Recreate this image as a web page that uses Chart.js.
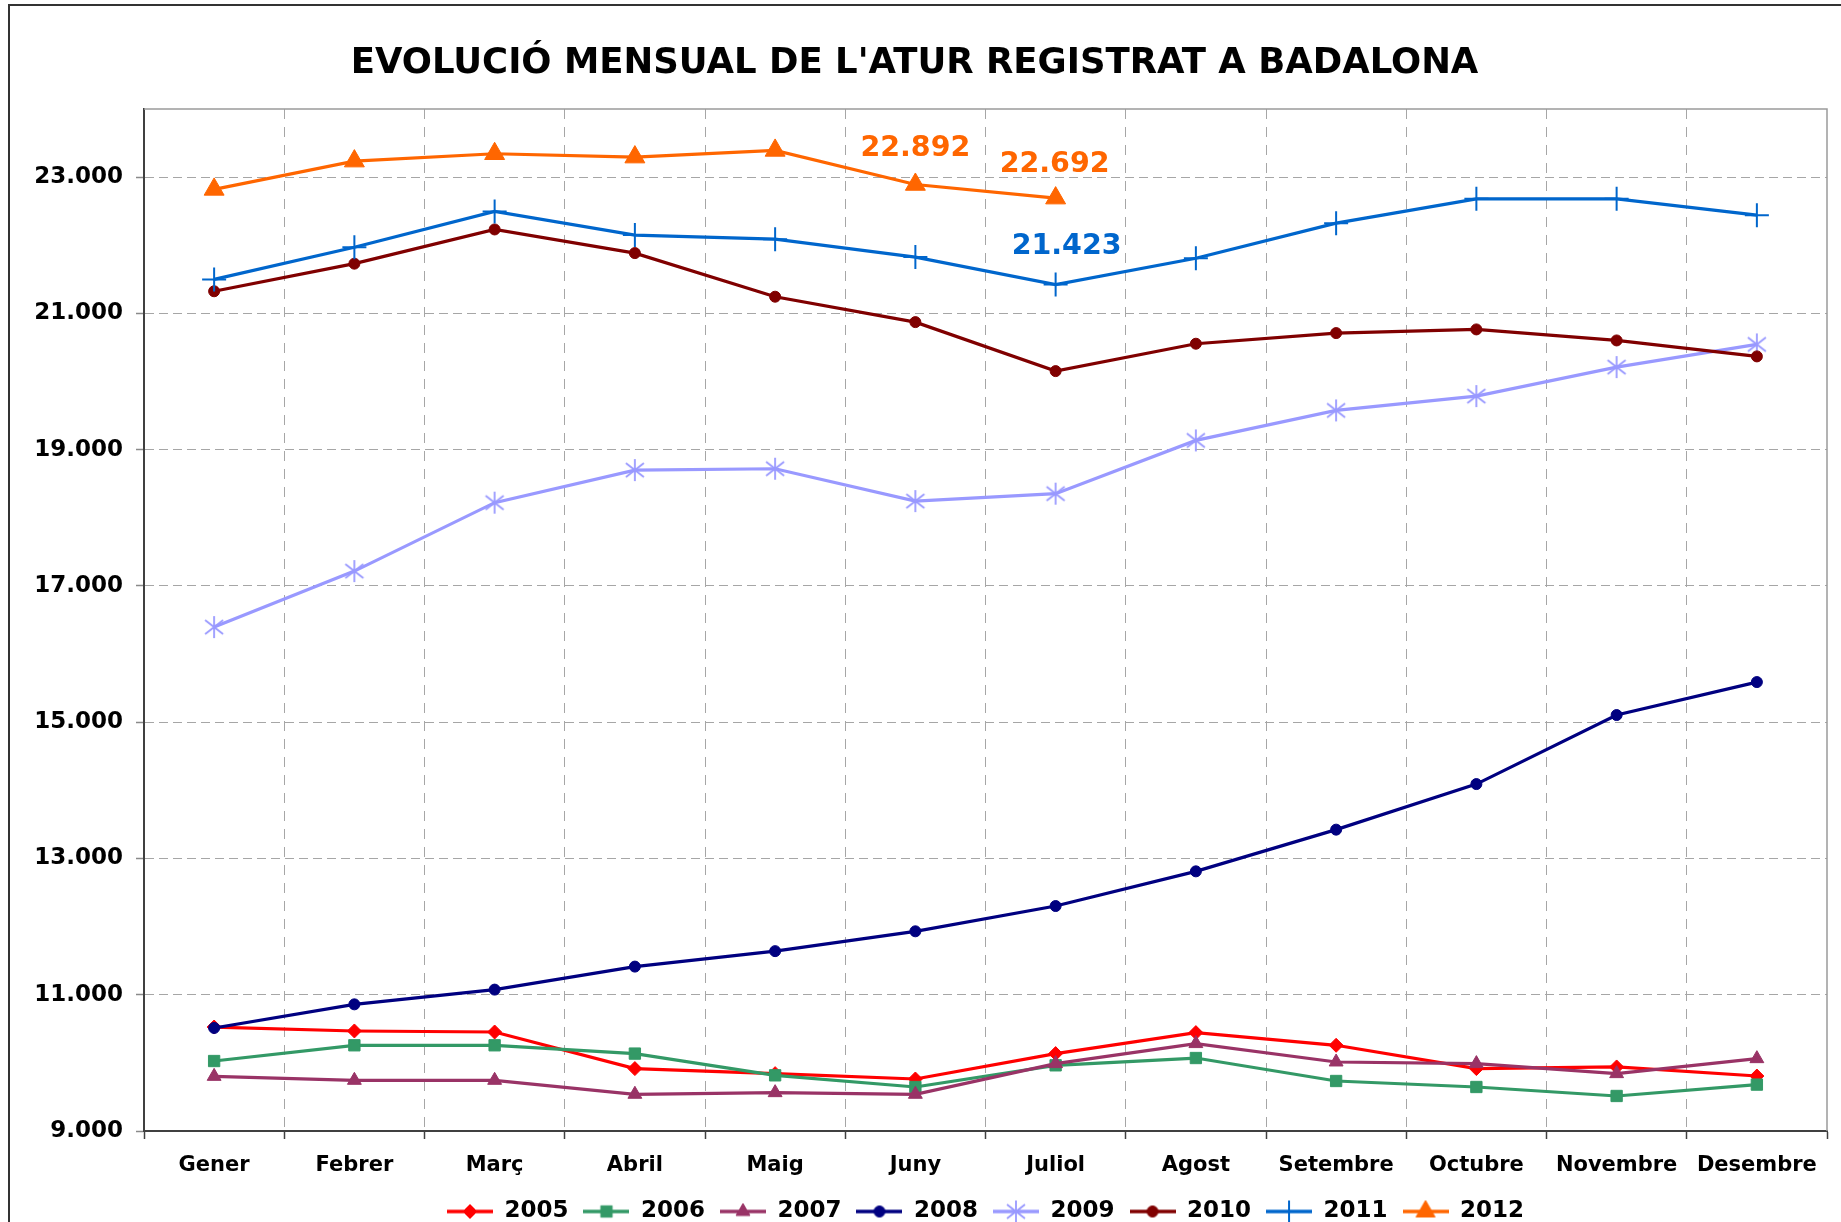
<!DOCTYPE html>
<html>
<head>
<meta charset="utf-8">
<script src="https://cdn.jsdelivr.net/npm/chart.js@4.4.1/dist/chart.umd.min.js"></script>
<style>
html,body{margin:0;padding:0;background:#fff;}
canvas{display:block;}
</style>
</head>
<body>
<canvas id="c" width="1841" height="1222"></canvas>
<script>
// ---------- DATA ----------
const chartTitle = "EVOLUCIÓ MENSUAL DE L'ATUR REGISTRAT A BADALONA";
const months = ['Gener','Febrer','Març','Abril','Maig','Juny','Juliol','Agost','Setembre','Octubre','Novembre','Desembre'];
const years = ['2005','2006','2007','2008','2009','2010','2011','2012'];
const y2005 = [10526, 10468, 10453, 9916, 9842, 9763, 10136, 10444, 10258, 9916, 9940, 9807];
const y2006 = [10027, 10258, 10258, 10136, 9817, 9646, 9964, 10071, 9734, 9646, 9514, 9681];
const y2007 = [9802, 9744, 9744, 9539, 9563, 9539, 9989, 10283, 10013, 9989, 9842, 10062];
const y2008 = [10512, 10859, 11075, 11413, 11640, 11931, 12302, 12811, 13423, 14092, 15105, 15589];
const y2009 = [16396, 17218, 18222, 18700, 18720, 18245, 18354, 19136, 19576, 19786, 20212, 20545];
const y2010 = [21325, 21730, 22232, 21885, 21245, 20872, 20153, 20555, 20711, 20765, 20603, 20369];
const y2011 = [21499, 21970, 22496, 22150, 22090, 21826, 21423, 21810, 22324, 22681, 22681, 22442];
const y2012 = [22820, 23235, 23343, 23294, 23392, 22892, 22692, null, null, null, null, null];
const yTickValues = [9000, 11000, 13000, 15000, 17000, 19000, 21000, 23000];
const yMin = 9000, yMax = 24000;
const labelledPoints = [['2012','Juny'], ['2012','Juliol'], ['2011','Juliol']];

// ---------- STYLE ----------
const FONT = "'DejaVu Sans', Verdana, sans-serif";
function makeAsterisk(color){
  const c = document.createElement('canvas'); c.width = 22; c.height = 24;
  const g = c.getContext('2d'); g.strokeStyle = color; g.lineWidth = 1.8;
  g.beginPath();
  g.moveTo(11,1); g.lineTo(11,23);
  g.moveTo(2,5); g.lineTo(20,19);
  g.moveTo(20,5); g.lineTo(2,19);
  g.stroke();
  return c;
}
const styles = {
  '2005': {color:'#FF0000', point:'rectRot', r:7, bw:1},
  '2006': {color:'#339966', point:'rect', r:8, bw:1},
  '2007': {color:'#993366', point:'triangle', r:8, bw:1},
  '2008': {color:'#000080', point:'circle', r:5.5, bw:1},
  '2009': {color:'#9999FF', point:null, r:11, bw:1},
  '2010': {color:'#800000', point:'circle', r:5.5, bw:1},
  '2011': {color:'#0066CC', point:'cross', r:12, bw:2},
  '2012': {color:'#FF6600', point:'triangle', r:11.5, bw:1}
};
styles['2009'].point = makeAsterisk(styles['2009'].color);
const seriesByYear = {'2005':y2005,'2006':y2006,'2007':y2007,'2008':y2008,'2009':y2009,'2010':y2010,'2011':y2011,'2012':y2012};

function legendImage(st){
  const c = document.createElement('canvas'); c.width = 46; c.height = 26;
  const g = c.getContext('2d');
  g.strokeStyle = st.color; g.lineWidth = 3.5;
  g.beginPath(); g.moveTo(0,13); g.lineTo(46,13); g.stroke();
  g.fillStyle = st.color; g.strokeStyle = st.color; g.lineWidth = st.bw;
  if (typeof st.point === 'string') {
    Chart.helpers.drawPoint(g, {pointStyle: st.point, radius: Math.min(st.r, 11), borderWidth: st.bw, rotation: 0}, 23, 13);
  } else {
    g.drawImage(st.point, 23 - st.point.width/2, 13 - st.point.height/2);
  }
  return c;
}
function fmt(n){ return String(n).replace(/\B(?=(\d{3})+(?!\d))/g, '.'); }

const datasets = years.map((y, i) => {
  const st = styles[y];
  return {
    label: y,
    data: seriesByYear[y],
    borderColor: st.color,
    backgroundColor: st.color,
    borderWidth: 3.2,
    pointStyle: st.point,
    pointRadius: st.r,
    pointBorderWidth: st.bw,
    pointBackgroundColor: st.color,
    pointBorderColor: st.color,
    tension: 0,
    spanGaps: false,
    order: years.length - i
  };
});

// ---------- PLUGINS ----------
const framePlugin = {
  id: 'frame',
  beforeDraw(chart){
    const ctx = chart.ctx;
    ctx.save();
    ctx.fillStyle = '#fff';
    ctx.fillRect(0, 0, chart.width, chart.height);
    ctx.strokeStyle = '#333'; ctx.lineWidth = 2;
    ctx.beginPath();
    ctx.moveTo(9, chart.height + 5); ctx.lineTo(9, 5); ctx.lineTo(chart.width + 5, 5);
    ctx.stroke();
    ctx.restore();
  },
  beforeDatasetsDraw(chart){
    const a = chart.chartArea, ctx = chart.ctx;
    ctx.save();
    ctx.strokeStyle = '#9a9a9a'; ctx.lineWidth = 1.5;
    ctx.beginPath();
    ctx.moveTo(a.left, a.top); ctx.lineTo(a.right, a.top); ctx.lineTo(a.right, a.bottom);
    ctx.stroke();
    ctx.restore();
  }
};
const labelOffsets = [{dx:0, dy:-36}, {dx:-1, dy:-34}, {dx:11, dy:-38}];
const valueLabelPlugin = {
  id: 'valueLabels',
  afterDatasetsDraw(chart){
    const ctx = chart.ctx;
    ctx.save();
    ctx.font = "bold 28.5px " + FONT;
    ctx.textAlign = 'center'; ctx.textBaseline = 'middle';
    labelledPoints.forEach(([yr, mo], k) => {
      const di = years.indexOf(yr), mi = months.indexOf(mo);
      const pt = chart.getDatasetMeta(di).data[mi];
      const v = seriesByYear[yr][mi];
      ctx.fillStyle = styles[yr].color;
      ctx.fillText(fmt(v), pt.x + labelOffsets[k].dx, pt.y + labelOffsets[k].dy);
    });
    ctx.restore();
  }
};

// ---------- CHART ----------
new Chart(document.getElementById('c'), {
  type: 'line',
  data: { labels: months, datasets },
  plugins: [framePlugin, valueLabelPlugin],
  options: {
    responsive: false,
    animation: false,
    devicePixelRatio: 1,
    events: [],
    layout: { padding: { top: 0, left: 0, right: 12, bottom: -11 } },
    plugins: {
      title: {
        display: true,
        text: chartTitle,
        color: '#000',
        font: { family: FONT, size: 35.5, weight: 'bold' },
        padding: { top: 42, bottom: 24.4 }
      },
      legend: {
        position: 'bottom',
        fullSize: false,
        labels: {
          color: '#000',
          font: { family: FONT, size: 23, weight: 'bold' },
          usePointStyle: true,
          pointStyleWidth: 46,
          padding: 15,
          generateLabels(chart){
            return chart.data.datasets.map((ds, i) => ({
              text: ds.label,
              fillStyle: ds.borderColor,
              strokeStyle: ds.borderColor,
              lineWidth: 0,
              pointStyle: legendImage(styles[ds.label]),
              datasetIndex: i,
              hidden: false,
              fontColor: '#000'
            }));
          }
        }
      },
      tooltip: { enabled: false }
    },
    scales: {
      x: {
        type: 'category',
        offset: true,
        grid: {
          offset: true,
          color: c => (c.index === 0 || c.index === undefined) ? 'rgba(0,0,0,0)' : '#a6a6a6',
          lineWidth: 1,
          tickLength: 8,
          tickColor: '#404040',
          tickWidth: 1.5,
          tickBorderDash: []
        },
        border: { display: true, color: '#404040', width: 2, dash: [10, 8] },
        ticks: {
          color: '#000',
          font: { family: FONT, size: 21, weight: 'bold' },
          padding: 14,
          maxRotation: 0,
          autoSkip: false
        },
        afterFit(s){ s.height = 54; }
      },
      y: {
        min: yMin,
        max: yMax,
        afterBuildTicks(s){ s.ticks = yTickValues.map(v => ({ value: v })); },
        grid: {
          color: c => (c.tick && c.tick.value === yMin) ? 'rgba(0,0,0,0)' : '#a6a6a6',
          lineWidth: 1,
          tickLength: 8,
          tickColor: '#8a8a8a',
          tickWidth: 1.5,
          tickBorderDash: []
        },
        border: { display: true, color: '#404040', width: 2, dash: [9, 5] },
        ticks: {
          color: '#000',
          font: { family: FONT, size: 23, weight: 'bold' },
          padding: 13,
          callback: v => fmt(v)
        },
        afterFit(s){ s.width = 144; }
      }
    }
  }
});
</script>
</body>
</html>
